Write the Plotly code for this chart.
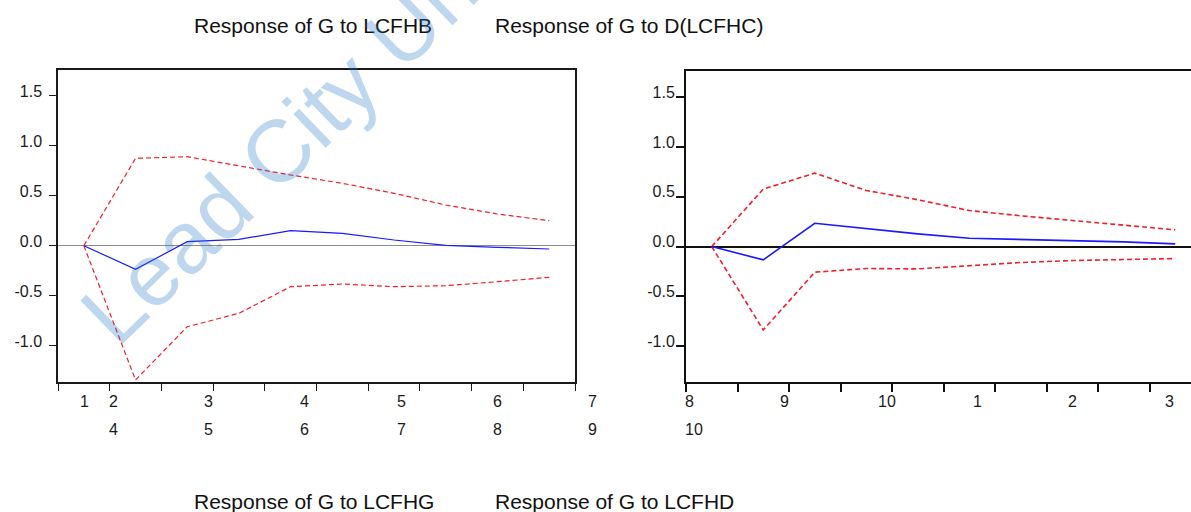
import plotly.graph_objects as go

W, H = 1191, 512

# ---- data (impulse responses, periods 1..10) ----
periods = list(range(1, 11))
resp_lcfhb = [0.0, -0.236, 0.04, 0.064, 0.15, 0.124, 0.057, 0.004, -0.016, -0.033]
upper_lcfhb = [0.0, 0.874, 0.89, 0.797, 0.707, 0.624, 0.524, 0.407, 0.317, 0.25]
lower_lcfhb = [0.0, -1.343, -0.81, -0.676, -0.41, -0.383, -0.41, -0.40, -0.36, -0.316]

resp_dlcfhc = [0.0, -0.133, 0.234, 0.18, 0.127, 0.084, 0.074, 0.064, 0.047, 0.027]
upper_dlcfhc = [0.0, 0.577, 0.737, 0.563, 0.47, 0.362, 0.309, 0.261, 0.215, 0.168]
lower_dlcfhc = [0.0, -0.837, -0.257, -0.22, -0.224, -0.19, -0.16, -0.14, -0.127, -0.12]

# ---- tick labels ----
y_tickvals = [-1.0, -0.5, 0.0, 0.5, 1.0, 1.5]
y_ticktext = ["-1.0", "-0.5", "0.0", "0.5", "1.0", "1.5"]
x_tickvals = [0.5 + i for i in range(11)]

left_row1 = ["1", "2", "3", "4", "5", "6", "7"]
left_row2 = ["4", "5", "6", "7", "8", "9"]
right_row1 = ["8", "9", "10", "1", "2", "3"]
right_row2 = ["10"]

titles_top = ["Response of G to LCFHB", "Response of G to D(LCFHC)"]
titles_bottom = ["Response of G to LCFHG", "Response of G to LCFHD"]
watermark = "Lead City University"

# ---- layout positions (pixels) ----
left_row1_px = [84.5, 113, 208.7, 304.5, 401, 497, 592.5]
left_row2_px = [113, 208.7, 304.5, 401, 497, 592.5]
right_row1_px = [689, 785, 887, 977, 1072, 1169]
right_row2_px = [694]

FONT = "Liberation Sans, Arial, sans-serif"
BLUE = "#1a1aff"
RED = "#f0202a"

fig = go.Figure()

def add_panel(xa, ya, resp, up, lo, lw):
    fig.add_trace(go.Scatter(x=periods, y=up, mode="lines", xaxis=xa, yaxis=ya,
                             line=dict(color=RED, width=lw, dash="5px,3px"), showlegend=False))
    fig.add_trace(go.Scatter(x=periods, y=lo, mode="lines", xaxis=xa, yaxis=ya,
                             line=dict(color=RED, width=lw, dash="5px,3px"), showlegend=False))
    fig.add_trace(go.Scatter(x=periods, y=resp, mode="lines", xaxis=xa, yaxis=ya,
                             line=dict(color=BLUE, width=lw), showlegend=False))

add_panel("x", "y", resp_lcfhb, upper_lcfhb, lower_lcfhb, 1.2)
add_panel("x2", "y2", resp_dlcfhc, upper_dlcfhc, lower_dlcfhc, 1.6)

def px_x(p):
    return p / W

def px_y(p):
    return 1 - p / H

annotations = []
def tick_note(t, p, row_y):
    annotations.append(dict(text=t, x=px_x(p), y=px_y(row_y), xref="paper", yref="paper",
                            showarrow=False, xanchor="center", yanchor="middle",
                            font=dict(family=FONT, size=16, color="#1a1a1a")))

for t, p in zip(left_row1, left_row1_px):
    tick_note(t, p, 401)
for t, p in zip(left_row2, left_row2_px):
    tick_note(t, p, 429)
for t, p in zip(right_row1, right_row1_px):
    tick_note(t, p, 401)
for t, p in zip(right_row2, right_row2_px):
    tick_note(t, p, 429)

for t, p in zip(titles_top, [192, 493]):
    annotations.append(dict(text=t, x=px_x(p), y=px_y(25), xref="paper", yref="paper",
                            showarrow=False, xanchor="left", yanchor="middle",
                            font=dict(family=FONT, size=21, color="#111111")))
for t, p in zip(titles_bottom, [192, 493]):
    annotations.append(dict(text=t, x=px_x(p), y=px_y(501), xref="paper", yref="paper",
                            showarrow=False, xanchor="left", yanchor="middle",
                            font=dict(family=FONT, size=21, color="#111111")))

annotations.append(dict(text=watermark, x=px_x(377), y=px_y(55), xref="paper", yref="paper",
                        showarrow=False, xanchor="center", yanchor="middle", textangle=-44,
                        font=dict(family=FONT, size=88, color="rgba(40,120,200,0.30)")))

axis_common_y = dict(tickvals=y_tickvals, ticktext=y_ticktext, showgrid=False,
                     ticks="outside", tickfont=dict(family=FONT, size=16, color="#1a1a1a"),
                     zeroline=True)

fig.update_layout(
    width=W, height=H,
    margin=dict(l=0, r=0, t=0, b=0),
    paper_bgcolor="white", plot_bgcolor="white",
    annotations=annotations,
    xaxis=dict(domain=[58 / W, 575 / W], range=[0.5, 10.5], tickvals=x_tickvals,
               showticklabels=False, ticks="outside", ticklen=7, tickwidth=1.2,
               tickcolor="#1a1a1a", showline=True, linecolor="#1a1a1a", linewidth=1.5,
               mirror=True, showgrid=False, zeroline=False, anchor="y"),
    yaxis=dict(domain=[1 - 382 / H, 1 - 70 / H], range=[-1.363, 1.757], anchor="x",
               ticklen=7, tickwidth=1, tickcolor="#1a1a1a", showline=True,
               linecolor="#1a1a1a", linewidth=1.5, mirror=True,
               zerolinecolor="#8c8c8c", zerolinewidth=1.2,
               ticklabelstandoff=4, ticklabelshift=-4, **axis_common_y),
    xaxis2=dict(domain=[686 / W, 1.0], range=[0.5, 0.5 + (W - 686) / 51.5], tickvals=x_tickvals,
                showticklabels=False, ticks="outside", ticklen=8, tickwidth=2,
                tickcolor="#111111", showline=True, linecolor="#111111", linewidth=2,
                mirror=True, showgrid=False, zeroline=False, anchor="y2"),
    yaxis2=dict(domain=[1 - 382 / H, 1 - 71 / H], range=[-1.359, 1.762], anchor="x2",
                ticklen=8, tickwidth=2.2, tickcolor="#111111", showline=True,
                linecolor="#111111", linewidth=2, mirror=False,
                zerolinecolor="#111111", zerolinewidth=1.5,
                ticklabelstandoff=-2, ticklabelshift=-5, **axis_common_y),
)

fig.write_html("out.html")
